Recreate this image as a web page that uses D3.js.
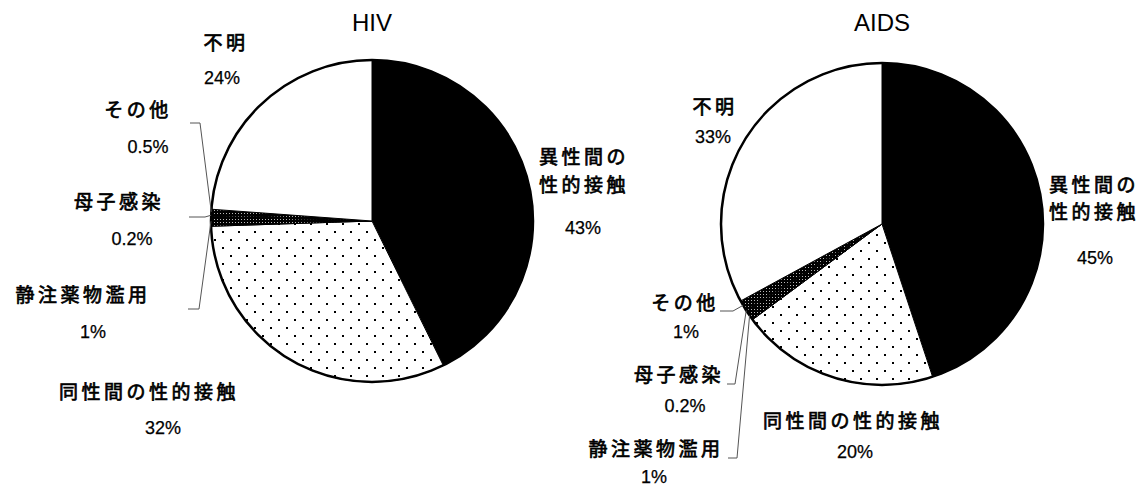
<!DOCTYPE html>
<html><head><meta charset="utf-8">
<script src="https://cdn.jsdelivr.net/npm/d3@7"></script>
<style>
html,body{margin:0;padding:0;background:#fff;}
svg{display:block;}
.jp{font-family:"Noto Sans CJK JP","Noto Sans CJK SC",sans-serif;font-size:19px;font-weight:normal;letter-spacing:3.5px;fill:#000;stroke:#000;stroke-width:0.7px;}
.pct{font-family:"Liberation Sans Narrow","Liberation Sans",Arial,sans-serif;font-size:18px;fill:#000;stroke:#000;stroke-width:0.25px;}
.title{font-family:"Liberation Sans",Arial,sans-serif;font-size:24px;fill:#000;}
</style>
</head><body>
<svg id="chart" width="1148" height="487"></svg>
<script>
// ---- data ----
const categories = ["異性間の性的接触","同性間の性的接触","静注薬物濫用","母子感染","その他","不明"];
const hivValues  = [43, 32, 1, 0.2, 0.5, 24];
const aidsValues = [45, 20, 1, 0.2, 1, 33];
const hivPct  = ["43%","32%","1%","0.2%","0.5%","24%"];
const aidsPct = ["45%","20%","1%","0.2%","1%","33%"];
const titles = ["HIV","AIDS"];

// ---- layout (label placement) ----
const lineGap = 27.6;
const layouts = [
  { cx:372, cy:221, r:161,
    labels:[
      {name:[584,155.5,["異性間の","性的接触"]], pct:[583,228]},
      {name:[149,390,["同性間の性的接触"]], pct:[163,428]},
      {name:[83,293,["静注薬物濫用"]], pct:[93,332], leader:[[188,309],[199,309]]},
      {name:[119,200,["母子感染"]], pct:[132,239], leader:[[189,217],[205,217]]},
      {name:[138,108,["その他"]], pct:[148,147], leader:[[190,123],[200,123]]},
      {name:[226,41,["不明"]], pct:[222,78]}
    ]},
  { cx:882, cy:224, r:161,
    labels:[
      {name:[1094,183,["異性間の","性的接触"]], pct:[1095,258]},
      {name:[853,419,["同性間の性的接触"]], pct:[855,452]},
      {name:[656,447,["静注薬物濫用"]], pct:[654,477], leader:[[728,458],[737,458]]},
      {name:[679,373,["母子感染"]], pct:[685,406], leader:[[727,384],[735,384]]},
      {name:[685,301,["その他"]], pct:[686,332], leader:[[720,311],[733,311]]},
      {name:[715,105,["不明"]], pct:[713,137]}
    ]}
];

const svg = d3.select("#chart");
const defs = svg.append("defs");

// sparse dot pattern
const p1 = defs.append("pattern").attr("id","dots").attr("patternUnits","userSpaceOnUse")
  .attr("width",16).attr("height",16);
p1.append("rect").attr("width",16).attr("height",16).attr("fill","#fff");
p1.append("rect").attr("x",2).attr("y",2).attr("width",2).attr("height",2).attr("fill","#000");
p1.append("rect").attr("x",10).attr("y",10).attr("width",2).attr("height",2).attr("fill","#000");

// dense dark pattern
const p2 = defs.append("pattern").attr("id","dense").attr("patternUnits","userSpaceOnUse")
  .attr("width",3).attr("height",3);
p2.append("rect").attr("width",3).attr("height",3).attr("fill","#000");
p2.append("rect").attr("x",1).attr("y",1).attr("width",1).attr("height",1).attr("fill","#bbb");

const fills = ["#000","url(#dots)","url(#dense)","url(#dense)","url(#dense)","#fff"];

const pie = d3.pie().sort(null).value(d => d.v);
const seriesList = [
  {title:titles[0], values:hivValues, pcts:hivPct},
  {title:titles[1], values:aidsValues, pcts:aidsPct}
];

seriesList.forEach((s, i) => {
  const L = layouts[i];
  const data = categories.map((c, k) => ({c, v:s.values[k], p:s.pcts[k], k}));
  const arcs = pie(data);
  const arc = d3.arc().innerRadius(0).outerRadius(L.r);
  const edge = d3.arc().innerRadius(L.r).outerRadius(L.r);
  const g = svg.append("g").attr("transform", `translate(${L.cx},${L.cy})`);

  g.selectAll("path.slice").data(arcs).join("path")
    .attr("class","slice")
    .attr("d", arc)
    .attr("fill", d => fills[d.data.k])
    .attr("stroke","#000").attr("stroke-width",1);

  g.append("circle").attr("r", L.r).attr("fill","none")
    .attr("stroke","#000").attr("stroke-width",2.5);

  // title
  svg.append("text").attr("class","title")
    .attr("x", L.cx).attr("y", 22).attr("text-anchor","middle")
    .attr("dominant-baseline","central").text(s.title);

  // labels
  arcs.forEach(a => {
    const lab = L.labels[a.data.k];
    const [x, y, lines] = lab.name;
    const t = svg.append("text").attr("class","jp").attr("text-anchor","middle");
    lines.forEach((ln, j) => {
      t.append("tspan").attr("x", x).attr("y", y + j*lineGap)
        .attr("dominant-baseline","central").text(ln);
    });
    svg.append("text").attr("class","pct").attr("x",lab.pct[0]).attr("y",lab.pct[1])
      .attr("text-anchor","middle").attr("dominant-baseline","central").text(a.data.p);
    if (lab.leader) {
      const c = edge.centroid(a);
      const pts = lab.leader.concat([[c[0]+L.cx, c[1]+L.cy]]);
      svg.append("path").attr("d", d3.line()(pts))
        .attr("fill","none").attr("stroke","#555").attr("stroke-width",1);
    }
  });
});
</script>
</body></html>
